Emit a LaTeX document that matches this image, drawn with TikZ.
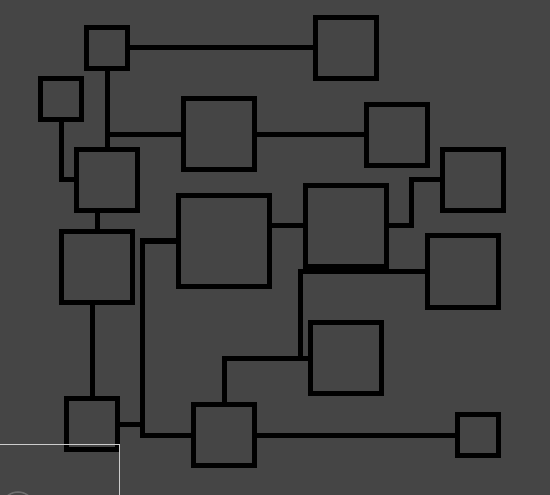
\documentclass[tikz,border=0pt]{standalone}
\begin{document}
\begin{tikzpicture}[x=1pt,y=-1pt,
  box/.style={draw=black,line width=5pt,rectangle,inner sep=0pt,minimum width=#1,minimum height=#1},
  wire/.style={draw=black,line width=5pt}]
\definecolor{bg}{RGB}{69,69,69}
\definecolor{frameline}{RGB}{205,205,205}
\definecolor{faint}{RGB}{110,110,110}
\useasboundingbox (0,0) rectangle (550,495);
\fill[bg] (0,0) rectangle (550,495);
% boxes
\node[box=41pt] (A) at (107,48) {};
\node[box=41pt] (B) at (61,99) {};
\node[box=61pt] (C) at (107,180) {};
\node[box=71pt] (D) at (219,134.5) {};
\node[box=61pt] (E) at (346,48) {};
\node[box=61pt] (F) at (397,135) {};
\node[box=91pt] (G) at (224,241) {};
\node[box=81pt] (H) at (346,226) {};
\node[box=71pt] (I) at (463,271.5) {};
\node[box=61pt] (K) at (473,180) {};
\node[box=71pt] (J) at (346,358) {};
\node[box=71pt] (L) at (97,267) {};
\node[box=51pt] (M) at (92,424) {};
\node[box=61pt] (N) at (224,435) {};
\node[box=41pt] (O) at (478,435) {};
% junctions
\coordinate (j1) at (142.5,241);
\coordinate (j2) at (411,226);
\coordinate (j3) at (300.5,271.5);
\coordinate (j4) at (300.5,358);
% connectors
\draw[wire] (A.east) -- (E.west);
\draw[wire] (A.south) -- (C.north);
\draw[wire] (D.west) -- (D.west -| A.south);
\draw[wire] (D.east) -- (D.east -| F.west);
\draw[wire] (B.south) |- (C.west);
\draw[wire] (L.north) -- (L.north |- C.south);
\draw[wire] (M.north) -- (M.north |- L.south);
\draw[wire] (G.west) -- (j1) |- (N.west);
\draw[wire] (M.east) -- (M.east -| j1);
\draw[wire] (N.east) -- (O.west);
\draw[wire] (H.west) -- (H.west -| G.east);
\draw[wire] (H.east) -- (j2) |- (K.west);
\draw[wire] (I.west) -- (j3) -- (j4);
\draw[wire] (J.west) -| (N.north);
% overlay frame
\draw[frameline,line width=1pt] (0,444.5) -- (119.5,444.5) -- (119.5,495);
\begin{scope}
\clip (0,0) rectangle (550,495);
\draw[faint,line width=1.5pt] (18,508.5) circle[radius=16.5];
\end{scope}
\end{tikzpicture}
\end{document}
